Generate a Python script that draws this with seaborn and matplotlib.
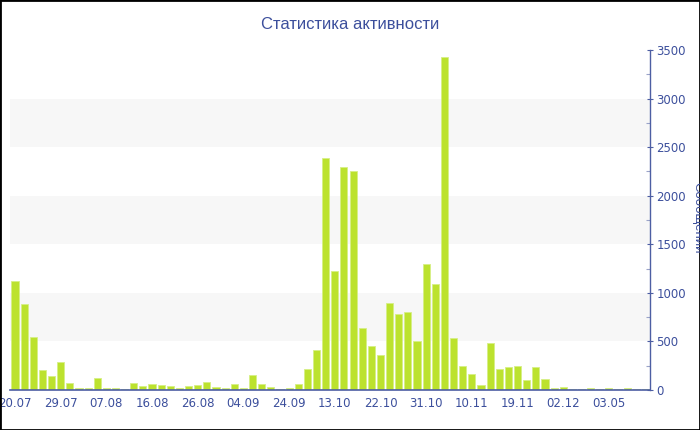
import matplotlib
matplotlib.use("Agg")
import matplotlib.pyplot as plt
import seaborn as sns
import pandas as pd
from matplotlib.patches import Rectangle
from matplotlib.ticker import MultipleLocator

# значения столбцов (сообщений за период)
values = [1120, 885, 545, 210, 145, 288, 75, 24, 25, 120,
          25, 20, 15, 75, 45, 58, 48, 41, 20, 38,
          55, 82, 34, 20, 65, 24, 151, 65, 31, 14,
          20, 60, 214, 409, 2390, 1229, 2297, 2252, 635, 450,
          357, 893, 786, 800, 505, 1296, 1089, 3433, 539, 244,
          161, 48, 481, 219, 234, 247, 106, 240, 117, 20,
          27, 10, 12, 20, 10, 20, 10, 20, 15, 10]
# подписи по оси X (каждый пятый столбец)
tick_labels = ["20.07", "29.07", "07.08", "16.08", "26.08", "04.09", "24.09",
               "13.10", "22.10", "31.10", "10.11", "19.11", "02.12", "03.05"]
bands = [(500, 1000), (1500, 2000), (2500, 3000)]

BAR_COLOR = "#bce22e"
AXIS_COLOR = "#4d5ea3"
TEXT_COLOR = "#3c4f9c"

sns.set_style("white")
plt.rcParams["font.family"] = ["DejaVu Sans"]

df = pd.DataFrame({"idx": range(len(values)), "value": values})

fig = plt.figure(figsize=(7, 4.3), dpi=100)
ax = fig.add_axes([0.0149, 0.093, 0.9137, 0.7907])

for lo, hi in bands:
    ax.axhspan(lo, hi, color="#f7f7f7", zorder=0, lw=0)

sns.barplot(data=df, x="idx", y="value", color=BAR_COLOR, saturation=1,
            width=0.78, edgecolor="#d6ef86", linewidth=0.6, ax=ax, zorder=2)

ax.set_xlim(-0.5, len(values) - 0.5)
ax.set_ylim(0, 3500)

# ось Y справа
ax.yaxis.tick_right()
ax.yaxis.set_major_locator(MultipleLocator(500))
ax.yaxis.set_minor_locator(MultipleLocator(250))
ax.tick_params(axis="y", which="major", direction="inout", length=5, width=0.8,
               color=AXIS_COLOR, labelcolor=TEXT_COLOR, labelsize=8.5, pad=2)
ax.tick_params(axis="y", which="minor", direction="in", length=3, width=0.8,
               color="#9aa3c8")
ax.set_ylabel("")

ax.set_xticks(range(0, len(values), 5))
ax.set_xticklabels(tick_labels)
ax.tick_params(axis="x", direction="out", length=4, width=1, color="#b8b8b8",
               labelcolor=TEXT_COLOR, labelsize=8.5, pad=1)
ax.set_xlabel("")

for side in ["top", "left"]:
    ax.spines[side].set_visible(False)
ax.spines["right"].set_color(AXIS_COLOR)
ax.spines["right"].set_linewidth(1)
ax.spines["bottom"].set_color(AXIS_COLOR)
ax.spines["bottom"].set_linewidth(1.2)
ax.spines["bottom"].set_zorder(3)

fig.text(0.5, 0.942, "Статистика активности", ha="center", va="center",
         fontsize=12, color=TEXT_COLOR,
         family=["Liberation Sans Narrow", "Liberation Sans", "DejaVu Sans"])
fig.text(0.997, 0.493, "Сообщений", ha="center", va="center", rotation=270,
         fontsize=9.5, color=TEXT_COLOR,
         family=["Liberation Sans Narrow", "Liberation Sans", "DejaVu Sans"])

# рамка вокруг картинки
fig.patches.append(Rectangle((0, 0), 1, 1, transform=fig.transFigure,
                             fill=False, edgecolor="black", linewidth=2))

fig.savefig("out.png", dpi=100)
